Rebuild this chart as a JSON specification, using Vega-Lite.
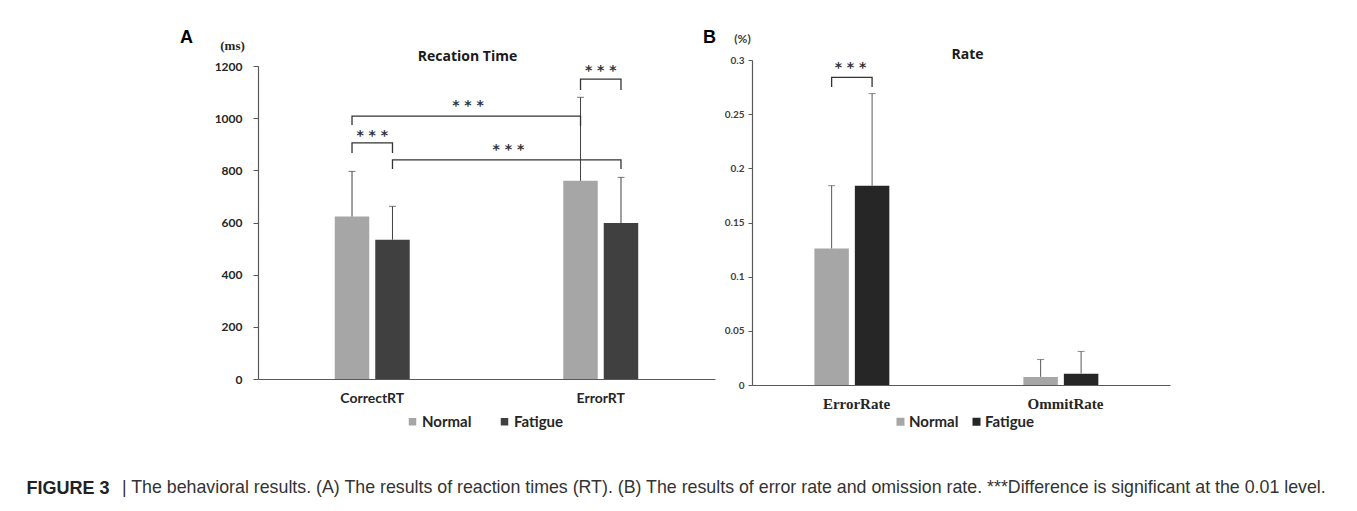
{
  "$schema": "https://vega.github.io/schema/vega-lite/v6.json",
  "padding": {"left": 26, "top": 28, "right": 5, "bottom": 5},
  "background": "white",
  "datasets": {
    "rt": [
      {"measure": "CorrectRT", "group": "Normal", "mean": 623, "upper": 796},
      {"measure": "CorrectRT", "group": "Fatigue", "mean": 534, "upper": 662},
      {"measure": "ErrorRT", "group": "Normal", "mean": 760, "upper": 1080},
      {"measure": "ErrorRT", "group": "Fatigue", "mean": 598, "upper": 773}
    ],
    "rtBrackets": [
      {"id": "b1", "measure": "CorrectRT", "group": "Normal", "y": 866, "ord": 1},
      {"id": "b1", "measure": "CorrectRT", "group": "Normal", "y": 905, "ord": 2},
      {"id": "b1", "measure": "CorrectRT", "group": "Fatigue", "y": 905, "ord": 3},
      {"id": "b1", "measure": "CorrectRT", "group": "Fatigue", "y": 866, "ord": 4},
      {"id": "b2", "measure": "CorrectRT", "group": "Normal", "y": 974, "ord": 1},
      {"id": "b2", "measure": "CorrectRT", "group": "Normal", "y": 1008, "ord": 2},
      {"id": "b2", "measure": "ErrorRT", "group": "Normal", "y": 1008, "ord": 3},
      {"id": "b2", "measure": "ErrorRT", "group": "Normal", "y": 970, "ord": 4},
      {"id": "b3", "measure": "CorrectRT", "group": "Fatigue", "y": 805, "ord": 1},
      {"id": "b3", "measure": "CorrectRT", "group": "Fatigue", "y": 840, "ord": 2},
      {"id": "b3", "measure": "ErrorRT", "group": "Fatigue", "y": 840, "ord": 3},
      {"id": "b3", "measure": "ErrorRT", "group": "Fatigue", "y": 805, "ord": 4},
      {"id": "b4", "measure": "ErrorRT", "group": "Normal", "y": 1108, "ord": 1},
      {"id": "b4", "measure": "ErrorRT", "group": "Normal", "y": 1150, "ord": 2},
      {"id": "b4", "measure": "ErrorRT", "group": "Fatigue", "y": 1150, "ord": 3},
      {"id": "b4", "measure": "ErrorRT", "group": "Fatigue", "y": 1108, "ord": 4}
    ],
    "rtStars": [
      {"measure": "CorrectRT", "y": 931, "label": "* * *"},
      {"measure": "ErrorRT", "y": 1181, "label": "* * *"}
    ],
    "rtCrossStars": [
      {"measure": "CorrectRT", "group": "Normal", "y": 1047, "label": "* * *"},
      {"measure": "CorrectRT", "group": "Fatigue", "y": 878, "label": "* * *"}
    ],
    "rate": [
      {"measure": "ErrorRate", "group": "Normal", "mean": 0.126, "upper": 0.184},
      {"measure": "ErrorRate", "group": "Fatigue", "mean": 0.184, "upper": 0.269},
      {"measure": "OmmitRate", "group": "Normal", "mean": 0.0075, "upper": 0.0235},
      {"measure": "OmmitRate", "group": "Fatigue", "mean": 0.0105, "upper": 0.031}
    ],
    "rateBrackets": [
      {"id": "r1", "measure": "ErrorRate", "group": "Normal", "y": 0.275, "ord": 1},
      {"id": "r1", "measure": "ErrorRate", "group": "Normal", "y": 0.284, "ord": 2},
      {"id": "r1", "measure": "ErrorRate", "group": "Fatigue", "y": 0.284, "ord": 3},
      {"id": "r1", "measure": "ErrorRate", "group": "Fatigue", "y": 0.275, "ord": 4}
    ],
    "rateStars": [
      {"measure": "ErrorRate", "y": 0.293, "label": "* * *"}
    ]
  },
  "title": {
    "text": "| The behavioral results. (A) The results of reaction times (RT). (B) The results of error rate and omission rate. ***Difference is significant at the 0.01 level.",
    "orient": "bottom",
    "anchor": "start",
    "frame": "group",
    "dx": -136,
    "offset": -18,
    "baseline": "top",
    "font": "Liberation Sans",
    "fontSize": 17.8,
    "fontWeight": "normal",
    "color": "#333333"
  },
  "hconcat": [
    {
      "width": 457,
      "height": 313,
      "resolve": {"axis": {"x": "independent", "y": "independent"}},
      "layer": [
        {
          "data": {"name": "rt"},
          "mark": {"type": "bar"},
          "encoding": {
            "x": {
              "field": "measure", "type": "nominal", "sort": ["CorrectRT", "ErrorRT"],
              "scale": {"paddingInner": 0.672, "paddingOuter": 0.336},
              "axis": {
                "orient": "bottom", "title": "A", "titleX": -72, "titleY": -337,
                "titleAngle": 0, "titleAlign": "center", "titleBaseline": "alphabetic",
                "titleFont": "Liberation Sans", "titleFontSize": 18, "titleFontWeight": "bold", "titleColor": "#000000",
                "labelAngle": 0, "labelFont": "Lato", "labelFontSize": 14, "labelFontWeight": "bold",
                "labelColor": "#262626", "labelPadding": 12, "ticks": false,
                "domainColor": "#595959", "domainWidth": 1.2
              }
            },
            "xOffset": {
              "field": "group", "type": "nominal", "sort": ["Normal", "Fatigue"],
              "scale": {"paddingInner": 0.148, "paddingOuter": 0}
            },
            "y": {
              "field": "mean", "type": "quantitative",
              "scale": {"domain": [0, 1200]},
              "axis": {
                "values": [0, 200, 400, 600, 800, 1000, 1200], "format": "d", "grid": false,
                "title": "(ms)", "titleAngle": 0, "titleX": -26, "titleY": -21,
                "titleAlign": "center", "titleBaseline": "middle",
                "titleFont": "Liberation Serif", "titleFontSize": 13, "titleFontWeight": "bold", "titleColor": "#262626",
                "labelFont": "Lato", "labelFontSize": 12, "labelFontWeight": "bold", "labelColor": "#262626",
                "labelPadding": 11, "tickSize": 5, "tickColor": "#595959",
                "domainColor": "#595959", "domainWidth": 1.2
              }
            },
            "color": {
              "field": "group", "type": "nominal",
              "scale": {"domain": ["Normal", "Fatigue"], "range": ["#a6a6a6", "#404040"]},
              "legend": {
                "title": null, "orient": "none", "direction": "horizontal",
                "legendX": 147, "legendY": 348, "padding": 0,
                "symbolType": "square", "symbolSize": 56, "symbolStrokeWidth": 0,
                "labelFont": "Lato", "labelFontSize": 15, "labelFontWeight": "bold", "labelColor": "#262626",
                "labelOffset": 2, "columnPadding": 25
              }
            }
          }
        },
        {
          "data": {"name": "rt"},
          "mark": {"type": "rule", "color": "#404040", "strokeWidth": 1},
          "encoding": {
            "x": {
              "field": "measure", "type": "nominal", "sort": ["CorrectRT", "ErrorRT"],
              "axis": {
                "orient": "top", "title": "Recation Time", "labels": false, "ticks": false, "domain": false,
                "titleX": 209, "titleY": -10, "titleAngle": 0, "titleAlign": "center", "titleBaseline": "middle",
                "titleFont": "Open Sans", "titleFontSize": 14, "titleFontWeight": "bold", "titleColor": "#1a1a1a"
              }
            },
            "xOffset": {"field": "group", "type": "nominal", "sort": ["Normal", "Fatigue"]},
            "y": {"field": "mean", "type": "quantitative", "axis": null},
            "y2": {"field": "upper"}
          }
        },
        {
          "data": {"name": "rt"},
          "mark": {"type": "tick", "color": "#404040", "thickness": 1, "size": 7},
          "encoding": {
            "x": {"field": "measure", "type": "nominal", "sort": ["CorrectRT", "ErrorRT"], "axis": null},
            "xOffset": {"field": "group", "type": "nominal", "sort": ["Normal", "Fatigue"]},
            "y": {
              "field": "upper", "type": "quantitative",
              "axis": {
                "orient": "right", "title": "FIGURE 3", "labels": false, "ticks": false, "domain": false, "grid": false,
                "titleX": -689, "titleY": 427, "titleAngle": 0, "titleAlign": "left", "titleBaseline": "alphabetic",
                "titleFont": "Liberation Sans", "titleFontSize": 18, "titleFontWeight": "bold", "titleColor": "#222222"
              }
            }
          }
        },
        {
          "data": {"name": "rtBrackets"},
          "mark": {"type": "line", "color": "#333333", "strokeWidth": 1.3, "interpolate": "linear"},
          "encoding": {
            "x": {"field": "measure", "type": "nominal", "sort": ["CorrectRT", "ErrorRT"], "axis": null},
            "xOffset": {"field": "group", "type": "nominal", "sort": ["Normal", "Fatigue"]},
            "y": {"field": "y", "type": "quantitative", "axis": null},
            "detail": {"field": "id", "type": "nominal"},
            "order": {"field": "ord", "type": "quantitative"}
          }
        },
        {
          "data": {"name": "rtStars"},
          "mark": {"type": "text", "font": "DejaVu Sans", "fontSize": 14, "fontWeight": "bold", "color": "#333333", "baseline": "middle"},
          "encoding": {
            "x": {"field": "measure", "type": "nominal", "sort": ["CorrectRT", "ErrorRT"], "axis": null},
            "y": {"field": "y", "type": "quantitative", "axis": null},
            "text": {"field": "label"}
          }
        },
        {
          "data": {"name": "rtCrossStars"},
          "mark": {"type": "text", "font": "DejaVu Sans", "fontSize": 14, "fontWeight": "bold", "color": "#333333", "baseline": "middle", "dx": 116},
          "encoding": {
            "x": {"field": "measure", "type": "nominal", "sort": ["CorrectRT", "ErrorRT"], "axis": null},
            "xOffset": {"field": "group", "type": "nominal", "sort": ["Normal", "Fatigue"]},
            "y": {"field": "y", "type": "quantitative", "axis": null},
            "text": {"field": "label"}
          }
        }
      ]
    },
    {
      "width": 418,
      "height": 325,
      "resolve": {"axis": {"x": "independent", "y": "independent"}},
      "layer": [
        {
          "data": {"name": "rate"},
          "mark": {"type": "bar"},
          "encoding": {
            "x": {
              "field": "measure", "type": "nominal", "sort": ["ErrorRate", "OmmitRate"],
              "scale": {"paddingInner": 0.597, "paddingOuter": 0.2985},
              "axis": {
                "orient": "bottom", "title": "B", "titleX": -43, "titleY": -343,
                "titleAngle": 0, "titleAlign": "center", "titleBaseline": "alphabetic",
                "titleFont": "Liberation Sans", "titleFontSize": 18, "titleFontWeight": "bold", "titleColor": "#000000",
                "labelAngle": 0, "labelFont": "Liberation Serif", "labelFontSize": 15, "labelFontWeight": "bold",
                "labelColor": "#262626", "labelPadding": 11, "ticks": false,
                "domainColor": "#595959", "domainWidth": 1.2
              }
            },
            "xOffset": {
              "field": "group", "type": "nominal", "sort": ["Normal", "Fatigue"],
              "scale": {"paddingInner": 0.174, "paddingOuter": 0}
            },
            "y": {
              "field": "mean", "type": "quantitative",
              "scale": {"domain": [0, 0.3]},
              "axis": {
                "values": [0, 0.05, 0.1, 0.15, 0.2, 0.25, 0.3], "format": "~g", "grid": false,
                "title": "(%)", "titleAngle": 0, "titleX": -10, "titleY": -22,
                "titleAlign": "center", "titleBaseline": "middle",
                "titleFont": "Lato", "titleFontSize": 12, "titleFontWeight": "bold", "titleColor": "#404040",
                "labelFont": "Lato", "labelFontSize": 10, "labelFontWeight": "bold", "labelColor": "#404040",
                "labelPadding": 4, "tickSize": 4, "tickColor": "#595959",
                "domainColor": "#595959", "domainWidth": 1.2
              }
            },
            "color": {
              "field": "group", "type": "nominal",
              "scale": {"domain": ["Normal", "Fatigue"], "range": ["#a6a6a6", "#262626"]},
              "legend": {
                "title": null, "orient": "none", "direction": "horizontal",
                "legendX": 141, "legendY": 354, "padding": 0,
                "symbolType": "square", "symbolSize": 64, "symbolStrokeWidth": 0,
                "labelFont": "Lato", "labelFontSize": 15, "labelFontWeight": "bold", "labelColor": "#262626",
                "labelOffset": 1, "columnPadding": 10
              }
            }
          }
        },
        {
          "data": {"name": "rate"},
          "mark": {"type": "rule", "color": "#595959", "strokeWidth": 1},
          "encoding": {
            "x": {
              "field": "measure", "type": "nominal", "sort": ["ErrorRate", "OmmitRate"],
              "axis": {
                "orient": "top", "title": "Rate", "labels": false, "ticks": false, "domain": false,
                "titleX": 215, "titleY": -6, "titleAngle": 0, "titleAlign": "center", "titleBaseline": "middle",
                "titleFont": "Open Sans", "titleFontSize": 14, "titleFontWeight": "bold", "titleColor": "#1a1a1a"
              }
            },
            "xOffset": {"field": "group", "type": "nominal", "sort": ["Normal", "Fatigue"]},
            "y": {"field": "mean", "type": "quantitative", "axis": null},
            "y2": {"field": "upper"}
          }
        },
        {
          "data": {"name": "rate"},
          "mark": {"type": "tick", "color": "#595959", "thickness": 1, "size": 7},
          "encoding": {
            "x": {"field": "measure", "type": "nominal", "sort": ["ErrorRate", "OmmitRate"], "axis": null},
            "xOffset": {"field": "group", "type": "nominal", "sort": ["Normal", "Fatigue"]},
            "y": {"field": "upper", "type": "quantitative", "axis": null}
          }
        },
        {
          "data": {"name": "rateBrackets"},
          "mark": {"type": "line", "color": "#333333", "strokeWidth": 1.3, "interpolate": "linear"},
          "encoding": {
            "x": {"field": "measure", "type": "nominal", "sort": ["ErrorRate", "OmmitRate"], "axis": null},
            "xOffset": {"field": "group", "type": "nominal", "sort": ["Normal", "Fatigue"]},
            "y": {"field": "y", "type": "quantitative", "axis": null},
            "detail": {"field": "id", "type": "nominal"},
            "order": {"field": "ord", "type": "quantitative"}
          }
        },
        {
          "data": {"name": "rateStars"},
          "mark": {"type": "text", "font": "DejaVu Sans", "fontSize": 14, "fontWeight": "bold", "color": "#333333", "baseline": "middle", "dx": -6},
          "encoding": {
            "x": {"field": "measure", "type": "nominal", "sort": ["ErrorRate", "OmmitRate"], "axis": null},
            "y": {"field": "y", "type": "quantitative", "axis": null},
            "text": {"field": "label"}
          }
        }
      ]
    }
  ],
  "spacing": 37,
  "bounds": "flush",
  "center": true,
  "resolve": {"scale": {"color": "independent"}, "legend": {"color": "independent"}},
  "config": {
    "view": {"stroke": null},
    "axis": {"grid": false}
  }
}
